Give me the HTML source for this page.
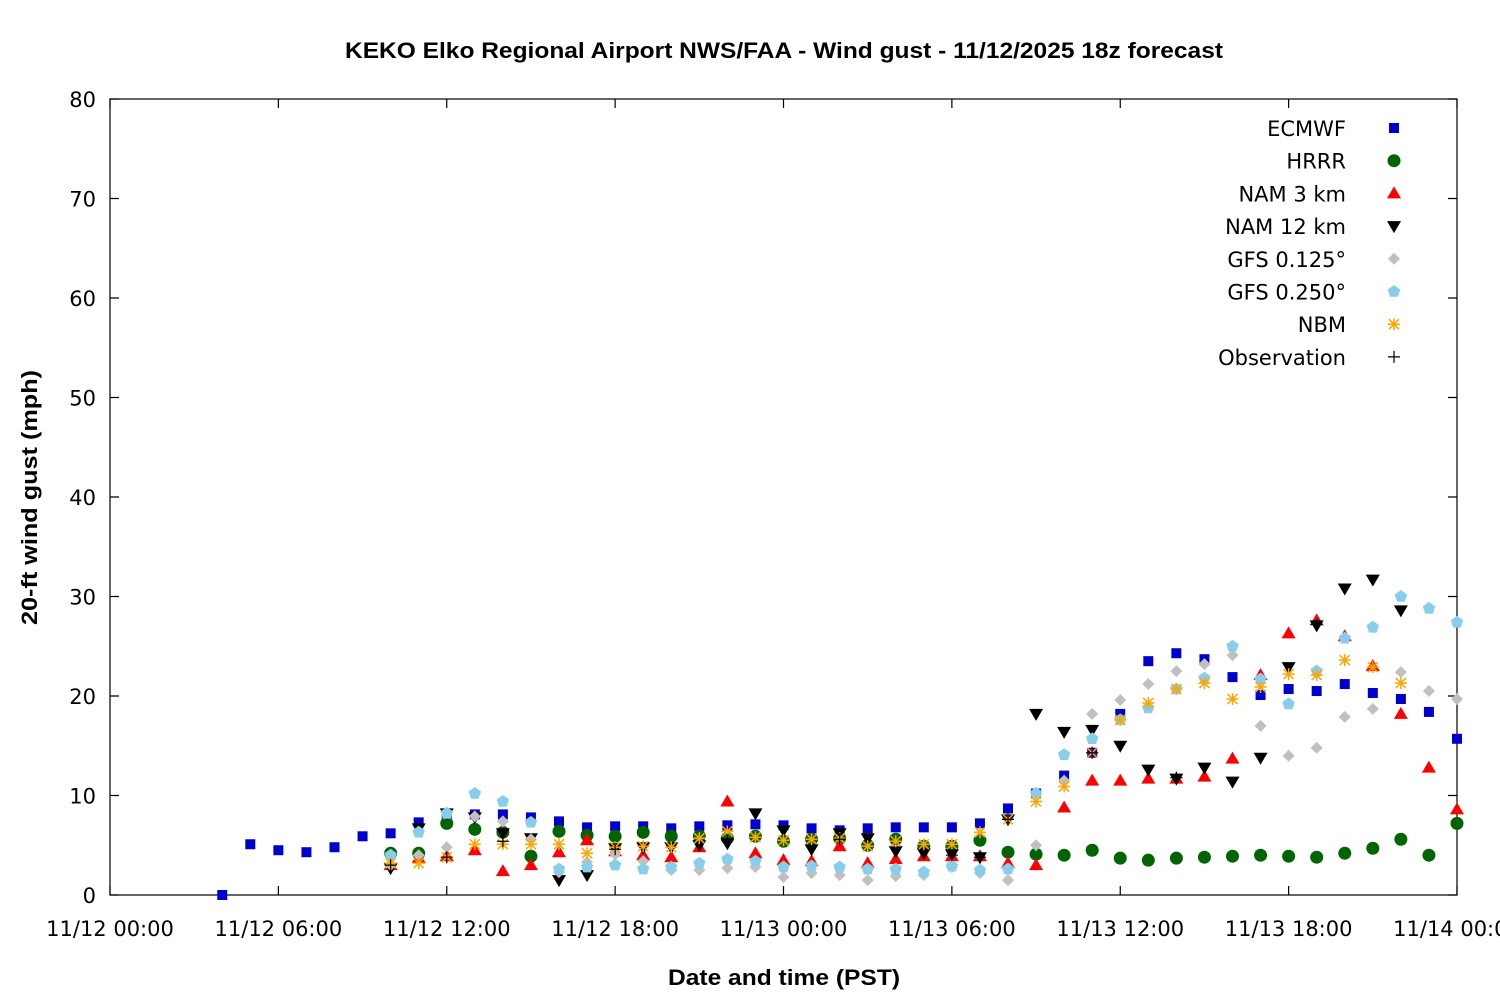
<!DOCTYPE html>
<html><head><meta charset="utf-8"><style>
html,body{margin:0;padding:0;background:#fff;}
svg{display:block;font-family:"DejaVu Sans","Liberation Sans",sans-serif;}
</style></head><body>
<svg id="chart" width="1500" height="1000" viewBox="0 0 1500 1000">
<text x="345" y="58" textLength="878" lengthAdjust="spacingAndGlyphs" font-size="22" font-weight="bold" font-family="Liberation Sans, sans-serif">KEKO Elko Regional Airport NWS/FAA - Wind gust - 11/12/2025 18z forecast</text>
<text x="0" y="0" transform="translate(37,625) rotate(-90)" textLength="255" lengthAdjust="spacingAndGlyphs" font-size="22" font-weight="bold" font-family="Liberation Sans, sans-serif">20-ft wind gust (mph)</text>
<text x="668" y="985" textLength="232" lengthAdjust="spacingAndGlyphs" font-size="22" font-weight="bold" font-family="Liberation Sans, sans-serif">Date and time (PST)</text>
<g id="axes"></g>
<g id="marks"></g>
<g id="legend"></g>
</svg>
<script>
const xTickLabels = ["11/12 00:00","11/12 06:00","11/12 12:00","11/12 18:00","11/13 00:00","11/13 06:00","11/13 12:00","11/13 18:00","11/14 00:00"];
const yTickValues = [0,10,20,30,40,50,60,70,80];
const seriesNames = ["ECMWF","HRRR","NAM 3 km","NAM 12 km","GFS 0.125°","GFS 0.250°","NBM","Observation"];
// values indexed by hour offset from 11/12 00:00, starting at hour 4
const startHour = 4;
const ecmwf = [0,5.1,4.5,4.3,4.8,5.9,6.2,7.3,8.1,8.1,8.1,7.8,7.4,6.8,6.9,6.9,6.7,6.9,7.0,7.1,7.0,6.7,6.5,6.7,6.8,6.8,6.8,7.2,8.7,10.2,12.0,14.3,18.2,23.5,24.3,23.7,21.9,20.1,20.7,20.5,21.2,20.3,19.7,18.4,15.7];
const hrrr = [null,null,null,null,null,null,4.2,4.2,7.2,6.6,6.3,3.9,6.4,6.0,5.9,6.3,5.9,5.9,5.7,5.9,5.4,5.6,5.7,5.0,5.6,4.9,4.9,5.5,4.3,4.1,4.0,4.5,3.7,3.5,3.7,3.8,3.9,4.0,3.9,3.8,4.2,4.7,5.6,4.0,7.2];
const nam3 = [null,null,null,null,null,null,3.0,3.7,3.9,4.5,2.4,3.0,4.3,5.5,4.4,4.0,3.8,4.8,9.4,4.2,3.5,3.4,4.9,3.2,3.6,3.9,3.9,3.9,3.2,3.0,8.8,11.5,11.5,11.7,11.7,11.9,13.7,22.1,26.3,27.6,26.0,23.0,18.2,12.8,8.6];
const nam12 = [null,null,null,null,null,null,2.7,6.7,8.2,7.8,6.2,5.7,1.5,2.0,4.7,4.8,4.8,5.0,5.2,8.2,6.5,4.6,6.2,5.7,4.4,4.2,4.1,3.8,7.6,18.2,16.4,16.6,15.0,12.6,11.7,12.8,11.4,13.8,22.9,27.1,30.8,31.7,28.6,null,null];
const gfs125 = [null,null,null,null,null,null,3.0,4.0,4.8,7.9,7.4,5.6,2.3,3.3,4.1,3.4,2.5,2.5,2.7,2.8,1.8,2.2,2.0,1.5,1.9,2.0,2.8,2.2,1.5,5.0,11.5,18.2,19.6,21.2,22.5,23.2,24.1,17.0,14.0,14.8,17.9,18.7,22.4,20.5,19.7];
const gfs250 = [null,null,null,null,null,null,4.0,6.3,8.2,10.2,9.4,7.3,2.6,2.8,3.0,2.6,2.8,3.2,3.6,3.4,2.8,2.9,2.8,2.6,2.6,2.3,2.9,2.5,2.6,10.2,14.1,15.7,17.6,18.8,20.7,21.8,25.0,21.7,19.2,22.5,25.8,26.9,30.0,28.8,27.4];
const nbm = [null,null,null,null,null,null,3.2,3.2,3.8,5.1,5.1,5.1,5.1,4.2,4.8,4.9,4.8,5.7,6.4,5.8,5.5,5.6,5.7,4.9,5.4,5.1,5.1,6.3,7.6,9.4,10.9,14.3,17.6,19.3,20.7,21.3,19.7,20.9,22.2,22.1,23.6,22.9,21.3,null,null];
const obs = [null,null,null,null,null,null,3.0,null,3.8,null,5.4,null,null,null,4.6,null,null,null,5.5,null,null,null,5.6,null,null,null,4.0,3.8,7.6,null,null,14.3,null,null,11.8,null,null,null,null,27.2,null,null,null,null,null];

const X0=110,X1=1457,Y0=895,Y1=99,HOURS=48,YMAX=80;
const xs=h=>X0+(X1-X0)*h/HOURS;
const ys=v=>Y0-(Y0-Y1)*v/YMAX;
const NS="http://www.w3.org/2000/svg";
function mk(tag,attrs,parent){const e=document.createElementNS(NS,tag);for(const k in attrs)e.setAttribute(k,attrs[k]);parent.appendChild(e);return e;}
const axes=document.getElementById('axes');
const frame=mk('rect',{x:X0,y:Y1,width:X1-X0,height:Y0-Y1,fill:'none',stroke:'#000','stroke-width':1.2},axes);


yTickValues.forEach(v=>{
  const y=ys(v);
  const t=mk('path',{d:`M${X0} ${y}h9M${X1} ${y}h-9`,stroke:'#000','stroke-width':1.2},axes);
  
  
  const l=mk('text',{x:96,y:y+8,'text-anchor':'end','font-size':21},axes);
  l.textContent=v;
  
  
});
xTickLabels.forEach((s,i)=>{
  const x=xs(i*6);
  const t=mk('path',{d:`M${x} ${Y0}v-9M${x} ${Y1}v9`,stroke:'#000','stroke-width':1.2},axes);
  
  
  const l=mk('text',{x:x,y:936,'text-anchor':'middle','font-size':21},axes);
  l.textContent=s;
  
  
});
function marker(type,x,y,parent){
  let e;
  if(type==0) e=mk('rect',{x:x-5,y:y-5,width:10,height:10,fill:'#0000cc'},parent);
  else if(type==1) e=mk('circle',{cx:x,cy:y,r:6.5,fill:'#006400'},parent);
  else if(type==2) e=mk('path',{d:`M${x} ${y-7}L${x+7} ${y+5}L${x-7} ${y+5}Z`,fill:'#ff0000'},parent);
  else if(type==3) e=mk('path',{d:`M${x} ${y+7}L${x+7} ${y-5}L${x-7} ${y-5}Z`,fill:'#000'},parent);
  else if(type==4) e=mk('path',{d:`M${x} ${y-6}L${x+6} ${y}L${x} ${y+6}L${x-6} ${y}Z`,fill:'#c0c0c0'},parent);
  else if(type==5){let p=[];for(let k=0;k<5;k++){const a=-Math.PI/2+k*2*Math.PI/5;p.push((x+6.5*Math.cos(a)).toFixed(1)+','+(y+6.5*Math.sin(a)).toFixed(1));}e=mk('polygon',{points:p.join(' '),fill:'#87ceeb'},parent);}
  else if(type==6) e=mk('path',{d:`M${x-6} ${y}h12M${x} ${y-6}v12M${x-5} ${y-5}l10 10M${x-5} ${y+5}l10 -10`,stroke:'#ffa500','stroke-width':1.5,fill:'none'},parent);
  else e=mk('path',{d:`M${x-6} ${y}h12M${x} ${y-6}v12`,stroke:'#000','stroke-width':1.2,fill:'none'},parent);
  return e;
}
const allSeries=[ecmwf,hrrr,nam3,nam12,gfs125,gfs250,nbm,obs];
const marks=document.getElementById('marks');
allSeries.forEach((arr,si)=>{
  const g=mk('g',{},marks);
  
  
  arr.forEach((v,i)=>{
    if(v===null)return;
    const m=marker(si,xs(startHour+i),ys(v),g);
    
    
  });
});
const legend=document.getElementById('legend');
seriesNames.forEach((n,i)=>{
  const y=128+i*32.7;
  const t=mk('text',{x:1346,y:y+8,'text-anchor':'end','font-size':21},legend);
  t.textContent=n;
  
  
  const m=marker(i,1394,y,legend);
  
  
});
</script>
</body></html>
